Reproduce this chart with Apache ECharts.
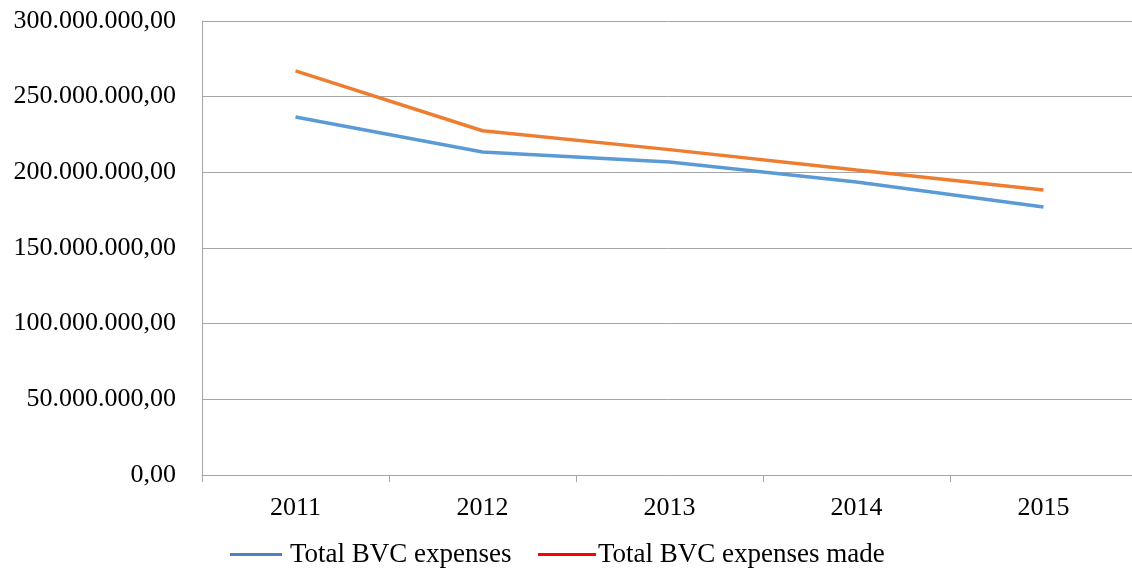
<!DOCTYPE html>
<html lang="en">
<head>
    <meta charset="UTF-8">
    <title>BVC expenses</title>
    <script src="https://cdn.jsdelivr.net/npm/echarts@6/dist/echarts.min.js"></script>
    <style>
        *{
            margin: 0;
            padding: 0;
        }
        html,body{
            width: 100%;
            height: 100%;
            background: #fff;
        }
        .main{
            width: 1132px;
            height: 569px;
        }
    </style>
</head>
<body>
<div class="main"></div>
<script>
    let years = ['2011', '2012', '2013', '2014', '2015'];
    let totalExpenses = [236600000, 213400000, 206800000, 193600000, 177100000];
    let totalExpensesMade = [267000000, 227500000, 215000000, 201500000, 188300000];
    let seriesNames = ['Total BVC expenses', 'Total BVC expenses made'];

    let fontFamily = '"Liberation Serif", "Times New Roman", serif';
    let axisColor = '#a6a6a6';

    function fmt(v) {
        let s = Math.round(v).toString().replace(/\B(?=(\d{3})+(?!\d))/g, '.');
        return s + ',00';
    }

    let main = echarts.init(document.getElementsByClassName('main')[0]);
    let option = {
        animation: false,
        grid: {
            left: 202,
            width: 935,
            top: 21,
            height: 454,
            outerBoundsMode: 'none'
        },
        legend: [{
            left: 230,
            top: 541,
            padding: 0,
            icon: 'rect',
            itemWidth: 52,
            itemHeight: 3,
            textStyle: {fontFamily, fontSize: 27, color: '#000', padding: [0, 0, 0, 3]},
            data: [{name: seriesNames[0], itemStyle: {color: '#4f81bd'}}]
        }, {
            left: 538,
            top: 541,
            padding: 0,
            icon: 'rect',
            itemWidth: 58,
            itemHeight: 3,
            textStyle: {fontFamily, fontSize: 27, color: '#000', padding: [0, 0, 0, -3]},
            data: [{name: seriesNames[1], itemStyle: {color: '#ff0000'}}]
        }],
        xAxis: {
            type: 'category',
            data: years,
            boundaryGap: true,
            axisLine: {lineStyle: {color: axisColor, width: 1}},
            axisTick: {show: true, length: 7, lineStyle: {color: axisColor}},
            axisLabel: {
                fontFamily,
                fontSize: 26,
                color: '#000',
                margin: 20
            }
        },
        yAxis: {
            type: 'value',
            min: 0,
            max: 300000000,
            interval: 50000000,
            axisLine: {show: true, lineStyle: {color: axisColor, width: 1}},
            axisTick: {show: false},
            splitLine: {lineStyle: {color: axisColor, width: 1}},
            axisLabel: {
                fontFamily,
                fontSize: 26,
                color: '#000',
                margin: 26,
                formatter: fmt
            }
        },
        series: [{
            name: seriesNames[0],
            type: 'line',
            data: totalExpenses,
            symbol: 'none',
            lineStyle: {color: '#5b9bd5', width: 3.5},
            itemStyle: {color: '#5b9bd5'}
        }, {
            name: seriesNames[1],
            type: 'line',
            data: totalExpensesMade,
            symbol: 'none',
            lineStyle: {color: '#ed7d31', width: 3.5},
            itemStyle: {color: '#ed7d31'}
        }]
    };
    main.setOption(option);
</script>
</body>
</html>
